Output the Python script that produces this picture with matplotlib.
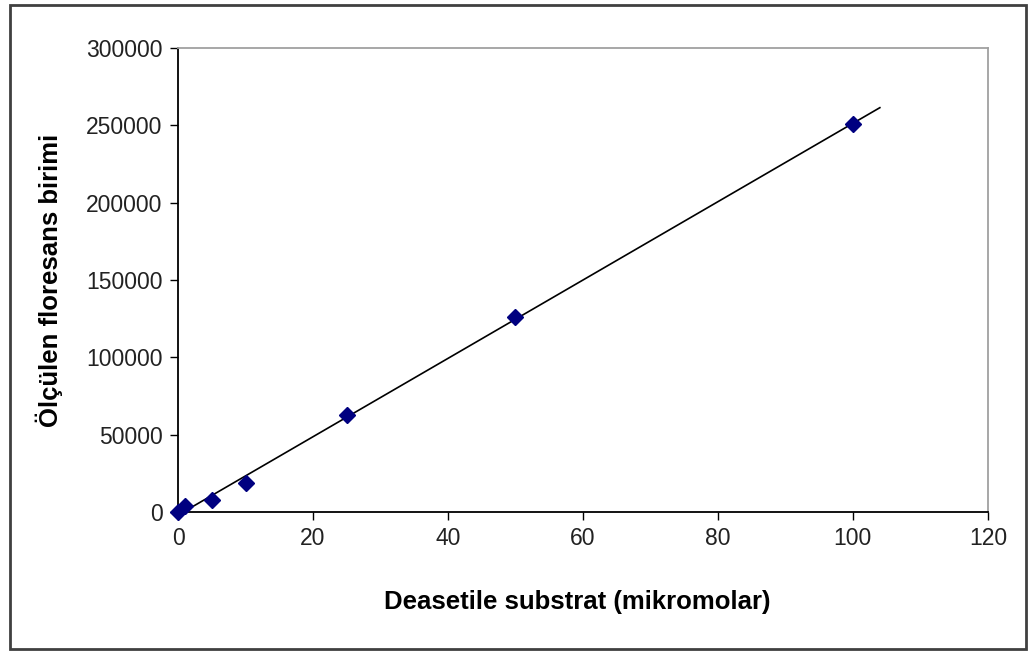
import numpy as np
import matplotlib.pyplot as plt
from matplotlib.patches import Rectangle

substrate = [0, 1, 5, 10, 25, 50, 100]
fluorescence = [0, 4000, 7500, 19000, 62500, 126000, 251000]

x_ticks = [0, 20, 40, 60, 80, 100, 120]
y_ticks = [0, 50000, 100000, 150000, 200000, 250000, 300000]
trend_end = 104

plt.rcParams["font.family"] = ["Liberation Sans", "DejaVu Sans"]

fig = plt.figure(figsize=(10.29, 6.51), dpi=100)
ax = fig.add_axes([0.173, 0.2135, 0.787, 0.7125])

# Linear trendline fitted to the points
slope, intercept = np.polyfit(substrate, fluorescence, 1)
xt = np.array([0, trend_end])
ax.plot(xt, slope * xt + intercept, color="black", lw=1.2, zorder=2)

ax.plot(substrate, fluorescence, linestyle="none", marker="D",
        markersize=8, color="#000080", zorder=3, clip_on=False)

ax.set_xlim(0, 120)
ax.set_ylim(0, 300000)
ax.set_xticks(x_ticks)
ax.set_yticks(y_ticks)
ax.tick_params(direction="out", length=6, width=1, labelsize=16.5,
               colors="black", labelcolor="#222222", pad=5)

ax.spines["left"].set_color("black")
ax.spines["bottom"].set_color("black")
ax.spines["top"].set_color("#a0a0a0")
ax.spines["right"].set_color("#a0a0a0")
for s in ax.spines.values():
    s.set_linewidth(1.3)

ax.set_xlabel("Deasetile substrat (mikromolar)", fontsize=18.5,
              fontweight="bold")
ax.set_ylabel("Ölçülen floresans birimi", fontsize=18.5,
              fontweight="bold")
ax.xaxis.set_label_coords(0.493, -0.168)
ax.yaxis.set_label_coords(-0.142, 0.5)

# Chart border
fig.patches.append(Rectangle((10 / 1029, 2 / 651), 1016 / 1029, 644 / 651,
                             transform=fig.transFigure, fill=False,
                             edgecolor="#404040", lw=2))

fig.savefig("out.png", dpi=100)
